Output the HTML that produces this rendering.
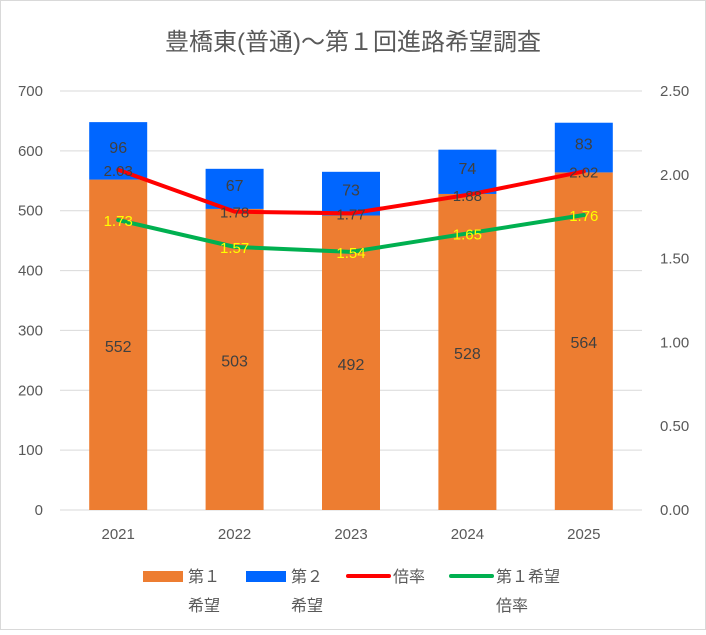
<!DOCTYPE html>
<html><head><meta charset="utf-8"><style>
body{margin:0;background:#fff}
svg text{font-family:"Liberation Sans","Noto Sans CJK JP",sans-serif}
</style></head><body>
<svg id="c" width="706" height="630" xmlns="http://www.w3.org/2000/svg">
<rect x="0.5" y="0.5" width="705" height="629" fill="#fff" stroke="#d9d9d9"/>
<text x="353" y="50" text-anchor="middle" font-size="24" fill="#595959">豊橋東(普通)～第１回進路希望調査</text>
<g id="grid"></g><g id="bars"></g><g id="lines"></g><g id="labels"></g>
<g font-size="16" fill="#595959">
<rect x="143" y="571" width="40" height="11" fill="#ed7d31"/>
<text x="188" y="582">第１</text>
<text x="188" y="611">希望</text>
<rect x="246" y="571" width="40" height="11" fill="#0066ff"/>
<text x="291" y="582">第２</text>
<text x="291" y="611">希望</text>
<line x1="348" y1="576" x2="389" y2="576" stroke="#ff0000" stroke-width="4" stroke-linecap="round"/>
<text x="393" y="582">倍率</text>
<line x1="451" y1="576" x2="492" y2="576" stroke="#00b050" stroke-width="4" stroke-linecap="round"/>
<text x="496" y="582">第１希望</text>
<text x="496" y="611">倍率</text>
</g>
</svg>
<script>
const years=["2021","2022","2023","2024","2025"];
const first=[552,503,492,528,564];
const second=[96,67,73,74,83];
const ratio=[2.03,1.78,1.77,1.88,2.02];
const firstRatio=[1.73,1.57,1.54,1.65,1.76];
const leftTicks=[0,100,200,300,400,500,600,700];
const rightTicks=["0.00","0.50","1.00","1.50","2.00","2.50"];
const NS="http://www.w3.org/2000/svg";
const X0=60,X1=642,Y0=510,YT=91;
const yL=v=>Y0-(v/700)*(Y0-YT);
const yR=v=>Y0-(v/2.5)*(Y0-YT);
const step=(X1-X0)/years.length;
const xC=i=>X0+step*(i+0.5);
function mk(tag,attrs,parent,txt){const e=document.createElementNS(NS,tag);for(const k in attrs)e.setAttribute(k,attrs[k]);if(txt!=null)e.textContent=txt;document.getElementById(parent).appendChild(e);return e;}
leftTicks.forEach(t=>{
 const l=mk('line',{x1:X0,x2:X1,y1:yL(t),y2:yL(t),stroke:'#d9d9d9','stroke-width':1},'grid');
 
 
 const tx=mk('text',{x:43,y:yL(t)+5,'text-anchor':'end','font-size':15,fill:'#595959'},'grid',t);
 
 
});
rightTicks.forEach(t=>{
 const tx=mk('text',{x:660,y:yR(parseFloat(t))+5,'font-size':15,fill:'#595959'},'grid',t);
 
 
});
const bw=58;
years.forEach((y,i)=>{
 const cx=xC(i);
 const b1=mk('rect',{x:cx-bw/2,y:yL(first[i]),width:bw,height:Y0-yL(first[i]),fill:'#ed7d31'},'bars');
 
 
 const b2=mk('rect',{x:cx-bw/2,y:yL(first[i]+second[i]),width:bw,height:yL(first[i])-yL(first[i]+second[i]),fill:'#0066ff'},'bars');
 
 
 const xl=mk('text',{x:cx,y:539,'text-anchor':'middle','font-size':15,fill:'#595959'},'grid',y);
 
 
 const l1=mk('text',{x:cx,y:(yL(first[i])+Y0)/2+7,'text-anchor':'middle','font-size':16,fill:'#404040'},'labels',first[i]);
 
 
 const l2=mk('text',{x:cx,y:(yL(first[i])+yL(first[i]+second[i]))/2+2,'text-anchor':'middle','font-size':16,fill:'#404040'},'labels',second[i]);
 
 
 const l3=mk('text',{x:cx,y:yR(ratio[i])+6,'text-anchor':'middle','font-size':15,fill:'#404040'},'labels',ratio[i].toFixed(2));
 
 
 const l4=mk('text',{x:cx,y:yR(firstRatio[i])+6,'text-anchor':'middle','font-size':15,fill:'#ffff00'},'labels',firstRatio[i].toFixed(2));
 
 
});
function path(arr){return arr.map((v,i)=>(i?'L':'M')+xC(i)+' '+yR(v)).join(' ');}
const p1=mk('path',{d:path(ratio),fill:'none',stroke:'#ff0000','stroke-width':4,'stroke-linejoin':'round','stroke-linecap':'round'},'lines');


const p2=mk('path',{d:path(firstRatio),fill:'none',stroke:'#00b050','stroke-width':4,'stroke-linejoin':'round','stroke-linecap':'round'},'lines');


</script>
</body></html>
